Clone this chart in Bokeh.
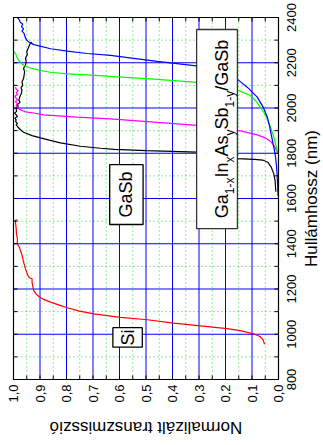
import math
from bokeh.plotting import figure
from bokeh.models import Range1d, Label
from bokeh.core.properties import value
from bokeh.embed import file_html
from bokeh.resources import INLINE

# ---------------- data (wavelength nm, normalised transmission) ----------------
si_wl = [955, 965, 975, 990, 1002, 1015, 1025, 1037, 1049, 1064, 1075, 1090, 1103, 1117,
         1130, 1142, 1154, 1165, 1178, 1194, 1210, 1230, 1245, 1250, 1258, 1267, 1290,
         1320, 1350, 1371, 1385, 1400, 1420, 1445, 1470, 1490, 1504, 1506]
si_t = [0.053, 0.055, 0.058, 0.07, 0.094, 0.14, 0.194, 0.294, 0.396, 0.495, 0.596, 0.697,
        0.755, 0.797, 0.83, 0.86, 0.886, 0.902, 0.915, 0.924, 0.927, 0.93, 0.93, 0.94,
        0.945, 0.948, 0.955, 0.962, 0.968, 0.974, 0.978, 0.986, 0.985, 0.989, 0.99,
        0.992, 0.993, 0.985]

gasb_wl = [1630, 1680, 1710, 1740, 1760, 1770, 1773, 1776, 1788, 1805, 1812, 1817, 1822,
           1831, 1846, 1858, 1868, 1878, 1893, 1905, 1915, 1925, 1932, 1940, 1948, 1955,
           1962, 1970, 1978, 1985, 1995, 2005, 2015, 2025, 2035, 2050, 2065, 2080, 2090,
           2100, 2115, 2130, 2145, 2160, 2175, 2190, 2205, 2220, 2235, 2250, 2265, 2278,
           2286, 2291]
gasb_t = [0.010, 0.013, 0.018, 0.028, 0.04, 0.06, 0.09, 0.156, 0.23, 0.307, 0.5, 0.62,
          0.672, 0.747, 0.823, 0.865, 0.898, 0.93, 0.962, 0.975, 0.983, 0.99, 0.985,
          0.992, 0.99, 0.995, 0.985, 0.99, 0.996, 0.988, 0.99, 0.982, 0.985, 0.975, 0.98,
          0.976, 0.97, 0.968, 0.972, 0.965, 0.968, 0.962, 0.96, 0.958, 0.962, 0.955,
          0.952, 0.955, 0.948, 0.95, 0.944, 0.94, 0.936, 0.93]

mag_wl = [1807, 1830, 1852, 1868, 1881, 1899, 1912, 1923, 1938, 1952, 1960, 1970, 1978,
          1983, 1989, 1996, 2005, 2012, 2020, 2028, 2036, 2044, 2052, 2060, 2068, 2076,
          2084, 2092]
mag_t = [0.005, 0.015, 0.03, 0.05, 0.08, 0.143, 0.22, 0.307, 0.47, 0.634, 0.76, 0.886,
         0.923, 0.955, 0.967, 0.98, 0.988, 0.99, 0.985, 0.993, 0.985, 0.99, 0.995, 0.985,
         0.99, 0.982, 0.99, 0.993]

grn_wl = [1800, 1842, 1880, 1915, 1950, 1980, 2003, 2030, 2055, 2077, 2095, 2104, 2114,
          2128, 2140, 2146, 2151, 2158, 2166, 2173, 2180, 2188, 2200, 2210, 2225, 2240,
          2250]
grn_t = [0.003, 0.011, 0.02, 0.03, 0.042, 0.055, 0.068, 0.085, 0.106, 0.15, 0.2, 0.25,
         0.32, 0.47, 0.634, 0.722, 0.797, 0.86, 0.9, 0.923, 0.945, 0.961, 0.972, 0.98,
         0.987, 0.992, 0.997]

blu_wl = [1612, 1650, 1700, 1750, 1782, 1810, 1840, 1880, 1915, 1959, 2004, 2048, 2092,
          2122, 2150, 2170, 2186, 2206, 2233, 2241, 2251, 2262, 2280, 2290, 2300, 2310,
          2320, 2330, 2340, 2350, 2360, 2370, 2380, 2390, 2400]
blu_t = [0.002, 0.003, 0.005, 0.008, 0.011, 0.015, 0.02, 0.027, 0.033, 0.042, 0.058,
         0.08, 0.118, 0.15, 0.2, 0.25, 0.31, 0.458, 0.634, 0.722, 0.797, 0.86, 0.923,
         0.94, 0.95, 0.955, 0.958, 0.96, 0.968, 0.962, 0.97, 0.965, 0.975, 0.978, 0.985]

t_ticks = [0.0, 0.1, 0.2, 0.3, 0.4, 0.5, 0.6, 0.7, 0.8, 0.9, 1.0]
t_tick_labels = ["0,0", "0,1", "0,2", "0,3", "0,4", "0,5", "0,6", "0,7", "0,8", "0,9", "1,0"]
t_minor = [0.05, 0.15, 0.25, 0.35, 0.45, 0.55, 0.65, 0.75, 0.85, 0.95]
wl_ticks = [800, 1000, 1200, 1400, 1600, 1800, 2000, 2200, 2400]
wl_tick_labels = ["800", "1000", "1200", "1400", "1600", "1800", "2000", "2200", "2400"]
wl_minor = [900, 1100, 1300, 1500, 1700, 1900, 2100, 2300]

x_label = "Normalizált transzmisszió"
y_label = "Hullámhossz (nm)"

# annotation boxes: (T_left, T_right, wl_bottom, wl_top)
si_box = (0.625, 0.514, 943, 1029)
gasb_box = (0.637, 0.511, 1485, 1750)
alloy_box = (0.309, 0.155, 1467, 2347)
alloy_parts = [("Ga", False), ("1-x", True), ("In", False), ("x", True), ("As", False),
               ("y", True), ("Sb", False), ("1-y", True), ("/GaSb", False)]

# ---------------- layout (plot area inside a 323x445 canvas) ----------------
FONT = "Liberation Sans"
W, H = 323, 445
PL, PR, PT, PB = 13, 278, 17, 379          # plot-area edges in canvas pixels
T0, T1, L0, L1 = 1.0, 0.0, 800, 2400        # data values at those edges
TPX = (T0 - T1) / (PR - PL)                 # transmission per pixel
LPX = (L1 - L0) / (PB - PT)                 # nm per pixel

p = figure(width=W, height=H,
           x_range=Range1d(T0 + PL * TPX, T1 - (W - PR) * TPX),
           y_range=Range1d(L0 - (H - PB) * LPX, L1 + PT * LPX),
           x_axis_type=None, y_axis_type=None, output_backend="svg",
           toolbar_location=None, min_border=0, background_fill_color="white",
           border_fill_color="white")
p.outline_line_color = None

# grid
p.segment(x0=t_minor, y0=[L0] * len(t_minor), x1=t_minor, y1=[L1] * len(t_minor),
          line_color="#22dd22", line_dash="1 3", line_width=1)
p.segment(x0=[T0] * len(wl_minor), y0=wl_minor, x1=[T1] * len(wl_minor), y1=wl_minor,
          line_color="#22dd22", line_dash="1 3", line_width=1)
p.segment(x0=t_ticks, y0=[L0] * len(t_ticks), x1=t_ticks, y1=[L1] * len(t_ticks),
          line_color="#0000ff", line_width=1)
p.segment(x0=[T0] * len(wl_ticks), y0=wl_ticks, x1=[T1] * len(wl_ticks), y1=wl_ticks,
          line_color="#0000ff", line_width=1)

# curves
p.line(si_t, si_wl, line_color="#ff0000", line_width=1.2)
p.line(gasb_t, gasb_wl, line_color="black", line_width=1.2)
p.line(mag_t, mag_wl, line_color="#ff00ff", line_width=1.2)
p.line(grn_t, grn_wl, line_color="#00ff00", line_width=1.2)
p.line(blu_t, blu_wl, line_color="#0000ff", line_width=1.2)

# frame and inward ticks on all four sides
p.quad(left=[T0], right=[T1], bottom=[L0], top=[L1], fill_color=None,
       line_color="black", line_width=1.2)
all_t = t_ticks[1:-1] + t_minor
all_l = wl_ticks[1:-1] + wl_minor
TL = 4
p.segment(x0=all_t, y0=[L0] * len(all_t), x1=all_t, y1=[L0 + TL * LPX] * len(all_t),
          line_color="black")
p.segment(x0=all_t, y0=[L1] * len(all_t), x1=all_t, y1=[L1 - TL * LPX] * len(all_t),
          line_color="black")
p.segment(x0=[T0] * len(all_l), y0=all_l, x1=[T0 - TL * TPX] * len(all_l), y1=all_l,
          line_color="black")
p.segment(x0=[T1] * len(all_l), y0=all_l, x1=[T1 + TL * TPX] * len(all_l), y1=all_l,
          line_color="black")

# tick labels
p.text(x=t_ticks, y=[L0 - 5 * LPX] * len(t_ticks), text=t_tick_labels, angle=math.pi / 2,
       text_align="right", text_baseline="middle", text_font=value(FONT),
       text_font_size=value("13px"), text_color="black")
p.text(x=[T1 - 13 * TPX] * len(wl_ticks), y=wl_ticks, text=wl_tick_labels,
       angle=math.pi / 2, text_align="center", text_baseline="middle",
       text_font=value(FONT), text_font_size=value("13px"), text_color="black")

# axis titles
p.text(x=[T1 - 33 * TPX], y=[(L0 + L1) / 2], text=[y_label], angle=math.pi / 2,
       text_align="center", text_baseline="middle", text_font=value(FONT),
       text_font_size=value("17px"), text_color="black")
p.text(x=[(T0 + T1) / 2], y=[L0 - 48 * LPX], text=[x_label], angle=math.pi,
       text_align="center", text_baseline="middle", text_font=value(FONT),
       text_font_size=value("17px"), text_color="black")

# boxed annotations
for (l, r, b, t), lc in ((si_box, "black"), (gasb_box, "black"), (alloy_box, "#333333")):
    p.quad(left=[l], right=[r], bottom=[b], top=[t], fill_color="white",
           line_color=lc, line_width=1.3)

for txt, box in (("Si", si_box), ("GaSb", gasb_box)):
    p.add_layout(Label(x=(box[0] + box[1]) / 2, y=(box[2] + box[3]) / 2, text=txt,
                       angle=math.pi / 2, text_align="center", text_baseline="middle",
                       text_font=FONT, text_font_size="18px", text_color="black"))

ADV = {"G": .778, "a": .556, "I": .278, "n": .556, "A": .667, "s": .5, "S": .667,
       "b": .556, "/": .278, "1": .556, "-": .333, "x": .5, "y": .5}
BIG, SMALL = 18, 12
widths = [sum(ADV[c] for c in s) * (SMALL if sub else BIG) for s, sub in alloy_parts]
total = sum(widths)
cx = (alloy_box[0] + alloy_box[1]) / 2
cy = (alloy_box[2] + alloy_box[3]) / 2
pos = -total / 2
for (s, sub), w in zip(alloy_parts, widths):
    p.add_layout(Label(x=cx, y=cy + pos * LPX, text=s, angle=math.pi / 2,
                       x_offset=(13 if sub else 5), text_align="left",
                       text_baseline="alphabetic", text_font=FONT,
                       text_font_size=f"{SMALL if sub else BIG}px", text_color="black"))
    pos += w

open("out.html", "w").write(file_html(p, INLINE))
